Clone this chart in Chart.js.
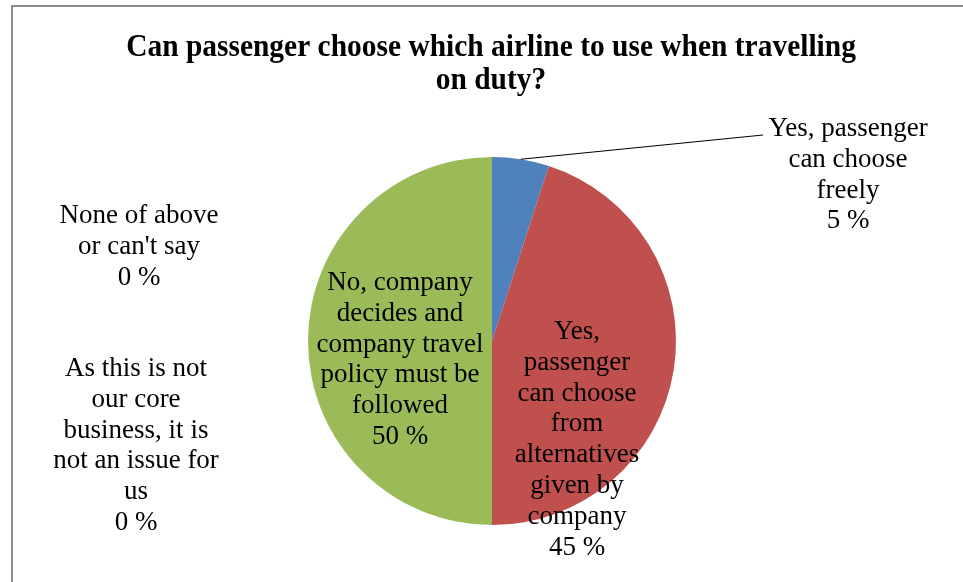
<!doctype html>
<html lang="en">
  <head>
    <meta charset="utf-8">
    <title>Airline choice when travelling on duty</title>
    <style>
    body { margin: 0; background: #fff; }
    #wrap { position: relative; width: 963px; height: 582px; }
    </style>
  </head>
  <body>
    <div id="wrap">
      <canvas id="canvas" width="963" height="582"></canvas>
    </div>

    <script src="https://cdn.jsdelivr.net/npm/chart.js@4"></script>
    <script>
    const titleLines = ['Can passenger choose which airline to use when travelling', 'on duty?'];

    const categories = [
      ['Yes, passenger', 'can choose', 'freely'],
      ['Yes,', 'passenger', 'can choose', 'from', 'alternatives', 'given by', 'company'],
      ['No, company', 'decides and', 'company travel', 'policy must be', 'followed'],
      ['None of above', "or can't say"],
      ['As this is not', 'our core', 'business, it is', 'not an issue for', 'us']
    ];
    const shares = [5, 45, 50, 0, 0];
    const colors = ['#4f81bd', '#c0504d', '#9bbb59', '#8064a2', '#4bacc6'];

    // where each label block starts (centre x, first line y) and leader lines
    const labelPlace = [
      { x: 848, y: 129, leader: [763, 135] },
      { x: 577, y: 332 },
      { x: 400, y: 283 },
      { x: 139, y: 216 },
      { x: 136, y: 369 }
    ];
    const lineGap = 30.8;

    const frame = {
      id: 'frame',
      beforeDraw(chart) {
        const ctx = chart.ctx;
        ctx.save();
        ctx.strokeStyle = '#8c8c8c';
        ctx.lineWidth = 2;
        ctx.beginPath();
        ctx.moveTo(12, 582);
        ctx.lineTo(12, 6);
        ctx.lineTo(963, 6);
        ctx.stroke();
        ctx.restore();
      }
    };

    const labels = {
      id: 'labels',
      afterDraw(chart) {
        const ctx = chart.ctx;
        const arcs = chart.getDatasetMeta(0).data;
        ctx.save();
        ctx.fillStyle = '#000';
        ctx.textAlign = 'center';
        ctx.textBaseline = 'middle';

        // title is a slightly narrow bold serif
        ctx.save();
        ctx.font = 'bold 31px "Liberation Serif", "Times New Roman", serif';
        ctx.translate(491, 0);
        ctx.scale(0.95, 1);
        titleLines.forEach((t, i) => ctx.fillText(t, 0, 48 + i * 33));
        ctx.restore();

        ctx.font = '27px "Liberation Serif", "Times New Roman", serif';
        categories.forEach((lines, i) => {
          const p = labelPlace[i];
          const all = lines.concat([shares[i] + ' %']);
          all.forEach((t, k) => ctx.fillText(t, p.x, p.y + k * lineGap));
          if (p.leader) {
            const a = arcs[i];
            const mid = (a.startAngle + a.endAngle) / 2;
            ctx.strokeStyle = '#000';
            ctx.lineWidth = 1;
            ctx.beginPath();
            ctx.moveTo(a.x + Math.cos(mid) * a.outerRadius, a.y + Math.sin(mid) * a.outerRadius);
            ctx.lineTo(p.leader[0], p.leader[1]);
            ctx.stroke();
          }
        });
        ctx.restore();
      }
    };

    new Chart(document.getElementById('canvas'), {
      type: 'pie',
      data: {
        labels: categories.map(c => c.join(' ')),
        datasets: [{
          data: shares,
          backgroundColor: colors,
          borderWidth: 0
        }]
      },
      options: {
        responsive: false,
        animation: false,
        layout: { padding: { top: 157, bottom: 57, left: 308, right: 287 } },
        plugins: {
          legend: { display: false },
          tooltip: { enabled: false },
          title: { display: false }
        }
      },
      plugins: [frame, labels]
    });
    </script>
  </body>
</html>
